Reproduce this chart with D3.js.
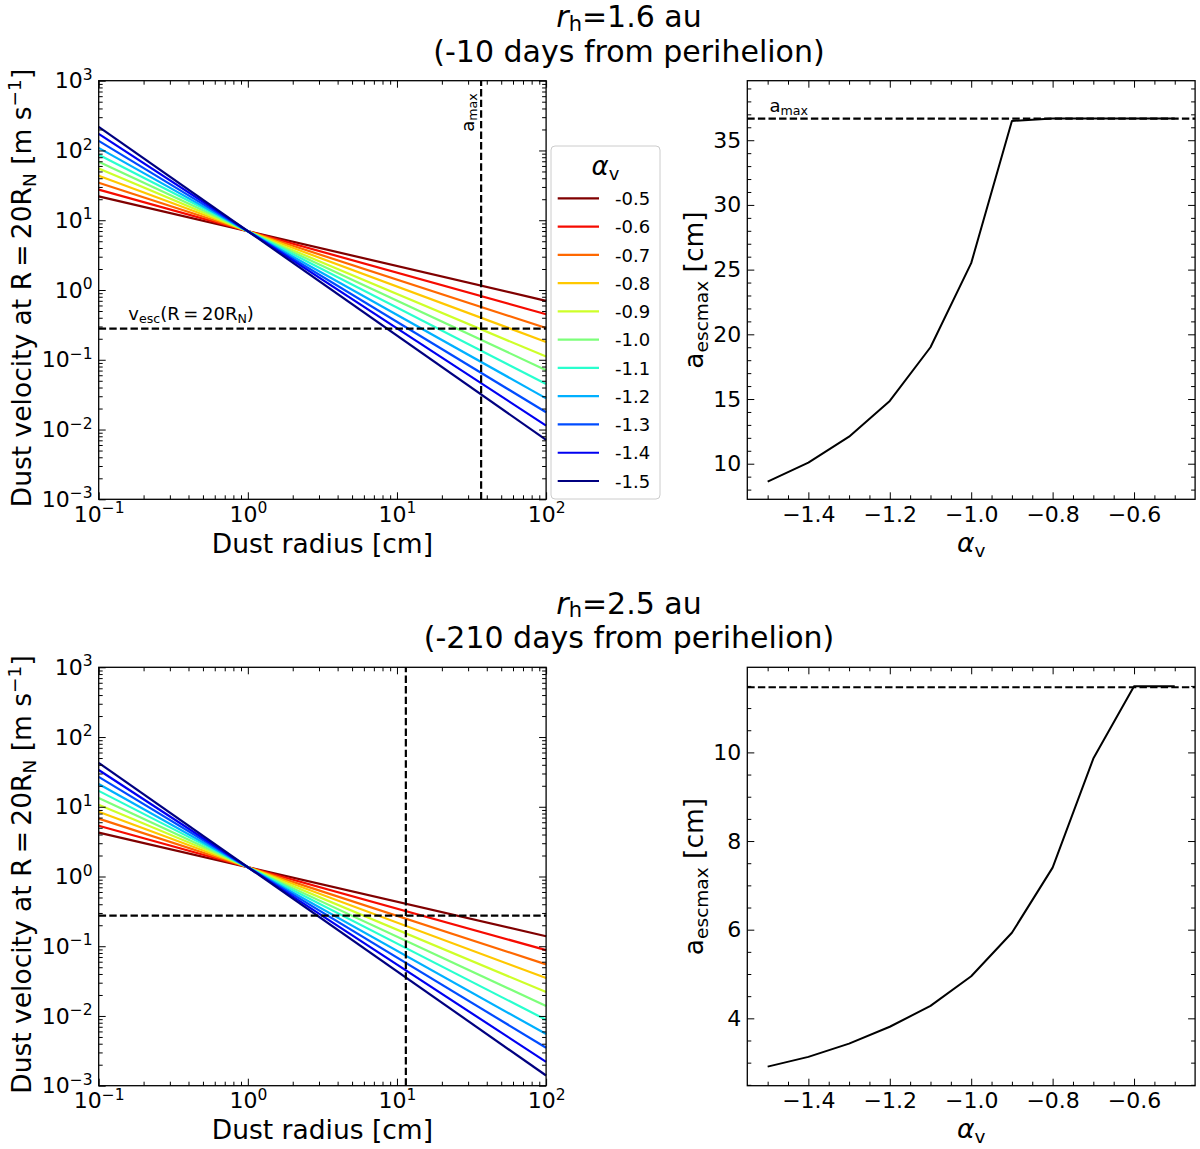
<!DOCTYPE html>
<html><head><meta charset="utf-8">
<script src="https://cdn.jsdelivr.net/npm/d3@7"></script>
<style>
body{margin:0;background:#fff}
svg{display:block}
text{font-family:"DejaVu Sans",sans-serif;fill:#000}
</style>
</head><body>
<svg id="chart" width="1200" height="1149"></svg>
<script>
// ---------------- data ----------------
const alphaLegend = [-0.5,-0.6,-0.7,-0.8,-0.9,-1.0,-1.1,-1.2,-1.3,-1.4,-1.5];
const lineColors = ["#800000","#f60b00","#ff6800","#ffc800","#ceff29","#7dff7a","#29ffce","#00b0ff","#004cff","#0000f1","#000080"];
const radiusEnds = [0.1, 100];
// velocity at a=0.1 cm and a=100 cm for each alpha (top panel, r_h = 1.6 au)
const velTopStart = [22.0, 27.5, 34.5, 43.5, 55.0, 69.0, 87.0, 109.0, 137.0, 173.0, 218.0];
const velTopEnd   = [0.70, 0.45, 0.285, 0.180, 0.111, 0.071, 0.045, 0.028, 0.0177, 0.0114, 0.0071];
// bottom panel, r_h = 2.5 au
const velBotStart = [4.25, 5.35, 6.75, 8.5, 10.7, 13.4, 16.9, 21.2, 26.8, 33.7, 42.6];
const velBotEnd   = [0.139, 0.088, 0.055, 0.035, 0.022, 0.0139, 0.0088, 0.0055, 0.0035, 0.0022, 0.0014];
const vEscTop = 0.28, vEscBot = 0.275;
const aMaxTop = 36.67, aMaxBot = 11.47;
const alphaGrid = [-1.5,-1.4,-1.3,-1.2,-1.1,-1.0,-0.9,-0.8,-0.7,-0.6,-0.5];
const aEscTop = [8.61, 10.08, 12.09, 14.85, 19.0, 25.5, 36.49, 36.67, 36.67, 36.67, 36.67];
const aEscBot = [2.91, 3.13, 3.43, 3.81, 4.28, 4.95, 5.93, 7.40, 9.86, 11.49, 11.49];
const logXTicks = [0.1, 1, 10, 100];
const logYTicks = [1e-3, 1e-2, 1e-1, 1, 10, 100, 1000];
const alphaTicks = [-1.4, -1.2, -1.0, -0.8, -0.6];
const aEscTopTicks = [10, 15, 20, 25, 30, 35];
const aEscBotTicks = [4, 6, 8, 10];
const titles = [["1.6", "-10"], ["2.5", "-210"]];

// ---------------- layout ----------------
const svg = d3.select("#chart");
const LX = [98.7, 546.1], RX = [747.3, 1195.1];
const rows = [[80.7, 499.3], [667.3, 1085.7]];
const MAJ = 7, MIN = 4;
const TICKFS = 22, LABFS = 26.5;
const DASH = "7.4,3.2";

function logMinors(lo, hi) {
  const out = [];
  for (let k = lo; k < hi; k++) for (let m = 2; m <= 9; m++) out.push(m * Math.pow(10, k));
  return out;
}
function linMinors(a, b, step, majors) {
  const out = [];
  const n = Math.round((b - a) / step);
  for (let i = 0; i <= n; i++) {
    const v = +(a + i * step).toFixed(4);
    if (!majors.some(m => Math.abs(m - v) < 1e-6)) out.push(v);
  }
  return out;
}
function powLabel(sel) {
  sel.each(function(d) {
    const e = Math.round(Math.log10(d));
    const t = d3.select(this);
    t.text(null);
    t.append("tspan").text("10");
    t.append("tspan").attr("dy", -8.5).style("font-size", "15.5px")
      .text(e < 0 ? "\u2212" + (-e) : String(e));
  });
}

function drawAxes(g, x, y, xMaj, xMin, yMaj, yMin, xFmt, yFmt) {
  const [x0, x1] = x.range(), [y1, y0] = y.range();
  const ab = g.append("g").attr("transform", `translate(0,${y1})`)
    .call(d3.axisBottom(x).tickValues(xMaj).tickSize(-MAJ).tickPadding(7).tickFormat(xFmt === "pow" ? (d => d) : xFmt));
  ab.selectAll(".tick text").style("font-size", TICKFS + "px").style("font-family", "DejaVu Sans");
  if (xFmt === "pow") powLabel(ab.selectAll(".tick text"));
  g.append("g").attr("transform", `translate(0,${y1})`).call(d3.axisBottom(x).tickValues(xMin).tickSize(-MIN).tickFormat(""));
  g.append("g").attr("transform", `translate(0,${y0})`).call(d3.axisTop(x).tickValues(xMaj).tickSize(-MAJ).tickFormat(""));
  g.append("g").attr("transform", `translate(0,${y0})`).call(d3.axisTop(x).tickValues(xMin).tickSize(-MIN).tickFormat(""));
  const al = g.append("g").attr("transform", `translate(${x0},0)`)
    .call(d3.axisLeft(y).tickValues(yMaj).tickSize(-MAJ).tickPadding(6).tickFormat(yFmt === "pow" ? (d => d) : yFmt));
  al.selectAll(".tick text").style("font-size", TICKFS + "px").style("font-family", "DejaVu Sans");
  if (yFmt === "pow") powLabel(al.selectAll(".tick text"));
  g.append("g").attr("transform", `translate(${x0},0)`).call(d3.axisLeft(y).tickValues(yMin).tickSize(-MIN).tickFormat(""));
  g.append("g").attr("transform", `translate(${x1},0)`).call(d3.axisRight(y).tickValues(yMaj).tickSize(-MAJ).tickFormat(""));
  g.append("g").attr("transform", `translate(${x1},0)`).call(d3.axisRight(y).tickValues(yMin).tickSize(-MIN).tickFormat(""));
  g.selectAll(".domain").remove();
  g.selectAll(".tick line").attr("stroke", "#000").attr("stroke-width", 1);
  g.append("rect").attr("x", x0).attr("y", y0).attr("width", x1 - x0).attr("height", y1 - y0)
    .attr("fill", "none").attr("stroke", "#000").attr("stroke-width", 1.3);
}

function leftPanel(row, vStart, vEnd, vEsc, aMax, annotate) {
  const [yt, yb] = rows[row];
  const g = svg.append("g");
  const x = d3.scaleLog().domain([0.1, 100]).range(LX);
  const y = d3.scaleLog().domain([1e-3, 1e3]).range([yb, yt]);
  const line = d3.line().x(d => x(d[0])).y(d => y(d[1]));
  alphaLegend.forEach((a, i) => {
    g.append("path").datum([[radiusEnds[0], vStart[i]], [radiusEnds[1], vEnd[i]]])
      .attr("d", line).attr("fill", "none").attr("stroke", lineColors[i]).attr("stroke-width", 2.2);
  });
  g.append("path").datum([[0.1, vEsc], [100, vEsc]]).attr("d", line)
    .attr("stroke", "#000").attr("stroke-width", 2.2).attr("stroke-dasharray", DASH).attr("fill", "none");
  g.append("path").datum([[aMax, 1e-3], [aMax, 1e3]]).attr("d", line)
    .attr("stroke", "#000").attr("stroke-width", 2.2).attr("stroke-dasharray", DASH).attr("fill", "none");
  drawAxes(g, x, y, logXTicks, logMinors(-1, 2), logYTicks, logMinors(-3, 3), "pow", "pow");
  if (annotate) {
    const t = g.append("text").attr("x", 128.3).attr("y", y(vEsc) - 9).style("font-size", "18px");
    t.append("tspan").text("v");
    t.append("tspan").attr("dy", 3.5).style("font-size", "12.6px").text("esc");
    t.append("tspan").attr("dy", -3.5).text("(R\u2009=\u200920R");
    t.append("tspan").attr("dy", 3.5).style("font-size", "12.6px").text("N");
    t.append("tspan").attr("dy", -3.5).text(")");
    const r = g.append("text").attr("transform", `translate(${x(aMax) - 7},${yt + 51}) rotate(-90)`).style("font-size", "18px");
    r.append("tspan").text("a");
    r.append("tspan").attr("dy", 3).style("font-size", "12.6px").text("max");
  }
  g.append("text").attr("x", (LX[0] + LX[1]) / 2).attr("y", yb + 53.7).attr("text-anchor", "middle")
    .style("font-size", LABFS + "px").text("Dust radius [cm]");
  const yl = g.append("text").attr("transform", `translate(31,${(yt + yb) / 2 - 2}) rotate(-90)`)
    .attr("text-anchor", "middle").style("font-size", LABFS + "px");
  yl.append("tspan").text("Dust velocity at R\u2009=\u200920R");
  yl.append("tspan").attr("dy", 5).style("font-size", "18.5px").text("N");
  yl.append("tspan").attr("dy", -5).text(" [m s");
  yl.append("tspan").attr("dy", -10).style("font-size", "18.5px").text("\u22121");
  yl.append("tspan").attr("dy", 10).text("]");
}

function rightPanel(row, data, aMax, yDom, yMaj, yMinStep, annotate) {
  const [yt, yb] = rows[row];
  const g = svg.append("g");
  const x = d3.scaleLinear().domain([-1.55, -0.45]).range(RX);
  const y = d3.scaleLinear().domain(yDom).range([yb, yt]);
  const line = d3.line().x(d => x(d[0])).y(d => y(d[1]));
  g.append("path").datum([[-1.55, aMax], [-0.45, aMax]]).attr("d", line)
    .attr("stroke", "#000").attr("stroke-width", 2.2).attr("stroke-dasharray", DASH).attr("fill", "none");
  g.append("path").datum(alphaGrid.map((a, i) => [a, data[i]])).attr("d", line)
    .attr("stroke", "#000").attr("stroke-width", 2).attr("fill", "none").attr("stroke-linejoin", "round");
  const yMin = linMinors(Math.ceil(yDom[0] / yMinStep) * yMinStep, Math.floor(yDom[1] / yMinStep) * yMinStep, yMinStep, yMaj);
  drawAxes(g, x, y, alphaTicks, linMinors(-1.5, -0.5, 0.05, alphaTicks), yMaj, yMin, d3.format(".1f"), d3.format("d"));
  if (annotate) {
    const t = g.append("text").attr("x", 769.5).attr("y", y(aMax) - 6.5).style("font-size", "18px");
    t.append("tspan").text("a");
    t.append("tspan").attr("dy", 3).style("font-size", "12.6px").text("max");
  }
  const xl = g.append("text").attr("x", (RX[0] + RX[1]) / 2).attr("y", yb + 52.7).attr("text-anchor", "middle")
    .style("font-size", LABFS + "px");
  xl.append("tspan").attr("font-style", "italic").text("\u03b1");
  xl.append("tspan").attr("dy", 5).style("font-size", "18.5px").text("v");
  const yl = g.append("text").attr("transform", `translate(703,${(yt + yb) / 2}) rotate(-90)`)
    .attr("text-anchor", "middle").style("font-size", LABFS + "px");
  yl.append("tspan").text("a");
  yl.append("tspan").attr("dy", 5).style("font-size", "18.5px").text("escmax");
  yl.append("tspan").attr("dy", -5).text(" [cm]");
}

function drawTitle(row, rh, days) {
  const base = row === 0 ? 27 : 613.5;
  const t = svg.append("text").attr("x", 629).attr("y", base).attr("text-anchor", "middle").style("font-size", "30px");
  t.append("tspan").attr("font-style", "italic").text("r");
  t.append("tspan").attr("dy", 3.5).style("font-size", "21px").text("h");
  t.append("tspan").attr("dy", -3.5).text("=" + rh + " au");
  svg.append("text").attr("x", 629).attr("y", base + 34.5).attr("text-anchor", "middle").style("font-size", "30px")
    .text(`(${days} days from perihelion)`);
}

function legend() {
  const g = svg.append("g");
  g.append("rect").attr("x", 551).attr("y", 146).attr("width", 109).attr("height", 353).attr("rx", 4)
    .attr("fill", "#fff").attr("fill-opacity", 0.8).attr("stroke", "#cccccc").attr("stroke-width", 1);
  const t = g.append("text").attr("x", 605.5).attr("y", 175).attr("text-anchor", "middle").style("font-size", "26px");
  t.append("tspan").attr("font-style", "italic").text("\u03b1");
  t.append("tspan").attr("dy", 5).style("font-size", "18px").text("v");
  alphaLegend.forEach((a, i) => {
    const yy = 198.3 + i * 28.27;
    g.append("line").attr("x1", 557.7).attr("x2", 599).attr("y1", yy).attr("y2", yy)
      .attr("stroke", lineColors[i]).attr("stroke-width", 2.2);
    g.append("text").attr("x", 615).attr("y", yy + 6.7).style("font-size", "18px").text(a.toFixed(1));
  });
}

drawTitle(0, titles[0][0], titles[0][1]);
drawTitle(1, titles[1][0], titles[1][1]);
leftPanel(0, velTopStart, velTopEnd, vEscTop, aMaxTop, true);
leftPanel(1, velBotStart, velBotEnd, vEscBot, aMaxBot, false);
rightPanel(0, aEscTop, aMaxTop, [7.25, 39.6], aEscTopTicks, 1, true);
rightPanel(1, aEscBot, aMaxBot, [2.48, 11.92], aEscBotTicks, 0.5, false);
legend();
</script>
</body></html>
